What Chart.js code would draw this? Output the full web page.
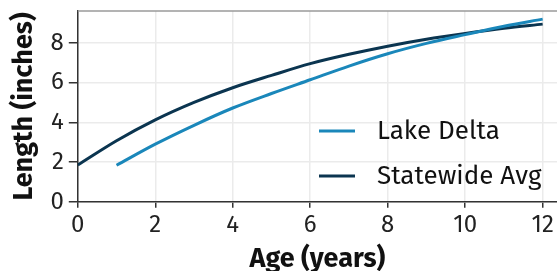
<!DOCTYPE html>
<html>
<head>
<meta charset="utf-8">
<script src="https://cdn.jsdelivr.net/npm/chart.js@4"></script>
<style>
  html, body { margin: 0; padding: 0; background: #fff; }
  #wrap { width: 557px; height: 271px; }
</style>
</head>
<body>
<div id="wrap"><canvas id="canvas"></canvas></div>
<script>
var ages = [0, 1, 2, 3, 4, 5, 6, 7, 8, 9, 10, 11, 12];
var lakeDelta = [null, 1.84, 2.9, 3.85, 4.72, 5.45, 6.14, 6.83, 7.45, 7.97, 8.41, 8.83, 9.19];
var statewide = [1.85, 3.07, 4.12, 5.0, 5.74, 6.36, 6.95, 7.42, 7.83, 8.18, 8.47, 8.73, 8.94];
var xTicks = [0, 2, 4, 6, 8, 10, 12];
var yTicks = [0, 2, 4, 6, 8];

var fontFam = "'Fira Sans', 'Noto Sans', 'Open Sans', sans-serif";

function pts(vals) {
    var out = [];
    for (var i = 0; i < ages.length; i++) {
        if (vals[i] !== null) out.push({ x: ages[i], y: vals[i] });
    }
    return out;
}

// top panel border + legend drawn inside the plot
var extras = {
    id: 'extras',
    afterDraw: function (chart) {
        var c = chart.ctx, a = chart.chartArea;
        c.save();
        c.strokeStyle = '#9a9a9a';
        c.lineWidth = 1.5;
        c.beginPath();
        c.moveTo(a.left, a.top);
        c.lineTo(a.right, a.top);
        c.stroke();

        var rows = [131, 176];
        c.font = '26px ' + fontFam;
        c.textBaseline = 'middle';
        chart.data.datasets.forEach(function (ds, k) {
            c.strokeStyle = ds.borderColor;
            c.lineWidth = 3;
            c.beginPath();
            c.moveTo(319, rows[k]);
            c.lineTo(355, rows[k]);
            c.stroke();
            c.fillStyle = '#111';
            c.fillText(ds.label, 377, rows[k] + 1);
        });
        c.restore();
    }
};

var ctx = document.getElementById('canvas');
var myChart = new Chart(ctx, {
    type: 'line',
    data: {
        datasets: [
            {
                label: 'Lake Delta',
                data: pts(lakeDelta),
                borderColor: '#1a87ba',
                backgroundColor: 'transparent',
                borderWidth: 3,
                pointRadius: 0,
                cubicInterpolationMode: 'monotone'
            },
            {
                label: 'Statewide Avg',
                data: pts(statewide),
                borderColor: '#0b3550',
                backgroundColor: 'transparent',
                borderWidth: 3,
                pointRadius: 0,
                cubicInterpolationMode: 'monotone'
            }
        ]
    },
    options: {
        responsive: true,
        maintainAspectRatio: false,
        animation: false,
        layout: { padding: { left: 8, right: 0, top: 11, bottom: 0 } },
        plugins: {
            legend: { display: false },
            tooltip: { enabled: false }
        },
        scales: {
            x: {
                type: 'linear',
                min: 0,
                max: 12.37,
                afterBuildTicks: function (s) { s.ticks = xTicks.map(function (v) { return { value: v }; }); },
                grid: { color: '#ebebeb', lineWidth: 1.5, tickColor: '#333', tickLength: 6 },
                border: { color: '#333', width: 1.5 },
                ticks: { color: '#222', font: { family: fontFam, size: 24 }, padding: 3, maxRotation: 0 },
                title: { display: true, text: 'Age (years)', color: '#111', font: { family: fontFam, size: 27, weight: 'bold' }, padding: { top: 1, bottom: -5 } }
            },
            y: {
                min: 0,
                max: 9.6,
                afterBuildTicks: function (s) { s.ticks = yTicks.map(function (v) { return { value: v }; }); },
                afterFit: function (s) { s.paddingTop = 0; s.paddingBottom = 0; },
                grid: { color: '#ebebeb', lineWidth: 1.5, tickColor: '#333', tickLength: 9 },
                border: { color: '#333', width: 1.5 },
                ticks: { color: '#222', font: { family: fontFam, size: 24 }, padding: 5 },
                title: { display: true, text: 'Length (inches)', color: '#111', font: { family: fontFam, size: 27, weight: 'bold' }, padding: { top: 0, bottom: 5 } }
            }
        }
    },
    plugins: [extras]
});
</script>
</body>
</html>
